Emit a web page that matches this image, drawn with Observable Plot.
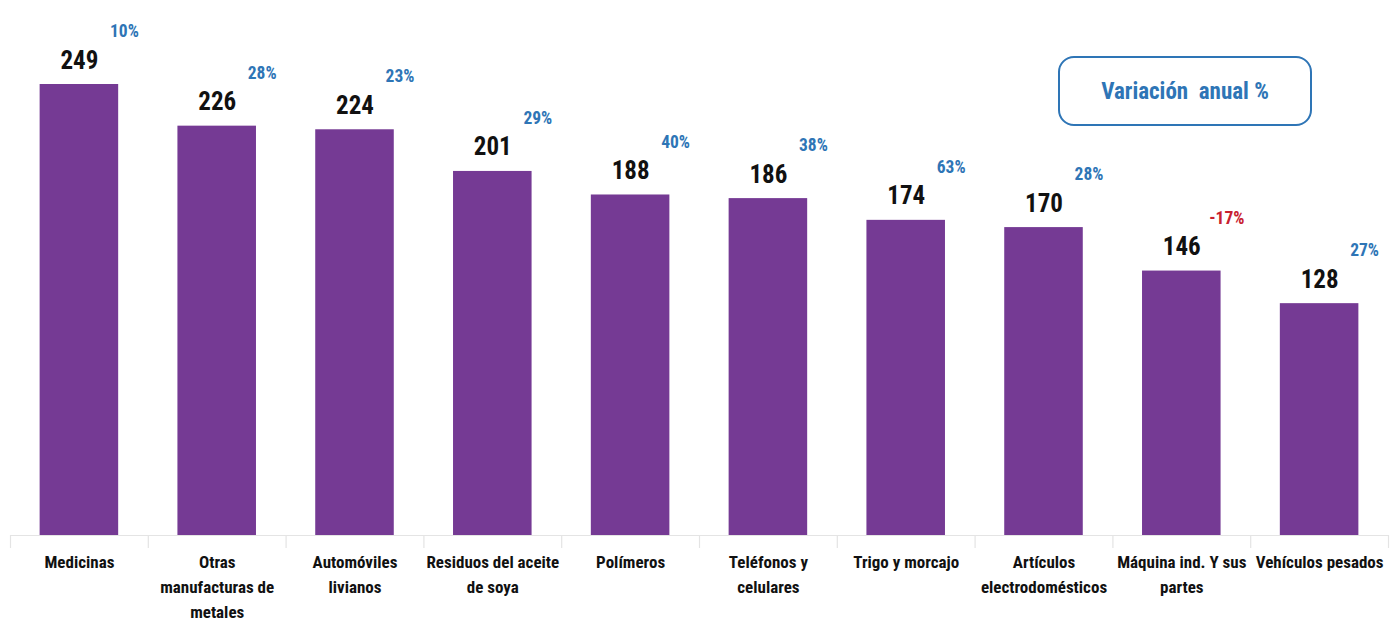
<!DOCTYPE html>
<html>
<head>
<meta charset="utf-8">
<script src="https://cdn.jsdelivr.net/npm/d3@7"></script>
<script src="https://cdn.jsdelivr.net/npm/@observablehq/plot@0.6"></script>
<style>
  html, body { margin: 0; padding: 0; background: #fff; }
  #wrap { position: relative; width: 1400px; height: 622px; font-family: "Liberation Sans Narrow", "Roboto Condensed", "Arial Narrow", sans-serif; }
  #legend {
    position: absolute; left: 1058px; top: 56px; width: 250px; height: 66px;
    border: 2px solid #2E75B6; border-radius: 16px; box-sizing: content-box;
    display: flex; align-items: center; justify-content: center;
    color: #2E75B6; font-weight: bold; font-size: 23px; white-space: pre;
  }
</style>
</head>
<body>
<div id="wrap"><div id="legend">Variación  anual %</div></div>
<script>
const categories = ["Medicinas", "Otras manufacturas de metales", "Automóviles livianos", "Residuos del aceite de soya", "Polímeros", "Teléfonos y celulares", "Trigo y morcajo", "Artículos electrodomésticos", "Máquina ind. Y sus partes", "Vehículos pesados"];
const tickLabels = ["Medicinas", "Otras\nmanufacturas de\nmetales", "Automóviles\nlivianos", "Residuos del aceite\nde soya", "Polímeros", "Teléfonos y\ncelulares", "Trigo y morcajo", "Artículos\nelectrodomésticos", "Máquina ind. Y sus\npartes", "Vehículos pesados"];
const values = [249, 226, 224, 201, 188, 186, 174, 170, 146, 128];
const variation = [10, 28, 23, 29, 40, 38, 63, 28, -17, 27];

const data = categories.map((c, i) => ({cat: c, label: tickLabels[i], value: values[i], varPct: variation[i]}));

const W = 1400, H = 622, mL = 10, mR = 12;
const step = (W - mL - mR) / categories.length;
const font = '"Liberation Sans Narrow", "Roboto Condensed", "Arial Narrow", sans-serif';

const chart = Plot.plot({
  width: W, height: H,
  marginLeft: mL, marginRight: mR, marginTop: 84, marginBottom: 87,
  style: {fontFamily: font, background: "transparent"},
  x: {domain: categories, paddingInner: 0.43, paddingOuter: 0.215, round: false, axis: null},
  y: {domain: [0, 249], axis: null},
  marks: [
    Plot.barY(data, {x: "cat", y: "value", fill: "#753A94"}),
    Plot.ruleY([0], {stroke: "#e4e4e4", strokeWidth: 1.2}),
    Plot.ruleX(data, {x: "cat", y1: 0, y2: 0, dx: -step / 2, insetBottom: -13, stroke: "#e4e4e4", strokeWidth: 1.2}),
    Plot.ruleX(data.slice(-1), {x: "cat", y1: 0, y2: 0, dx: step / 2, insetBottom: -13, stroke: "#e4e4e4", strokeWidth: 1.2}),
    Plot.text(data, {x: "cat", y: "value", text: d => String(d.value), dy: -16, lineAnchor: "bottom", fontSize: 25, fontWeight: "bold", fill: "#111"}),
    Plot.text(data, {x: "cat", y: "value", text: d => d.varPct + "%", dx: 45, dy: -53, fontSize: 17.5, fontWeight: "bold", fill: d => d.varPct < 0 ? "#C8202F" : "#2E75B6"}),
    Plot.text(data, {x: "cat", y: 0, text: "label", dy: 15, lineAnchor: "top", lineHeight: 1.47, fontSize: 17, fontWeight: "bold", fill: "#111"})
  ]
});
document.getElementById("wrap").prepend(chart);
chart.style.position = "absolute";
chart.style.left = "0";
chart.style.top = "0";
</script>
</body>
</html>
